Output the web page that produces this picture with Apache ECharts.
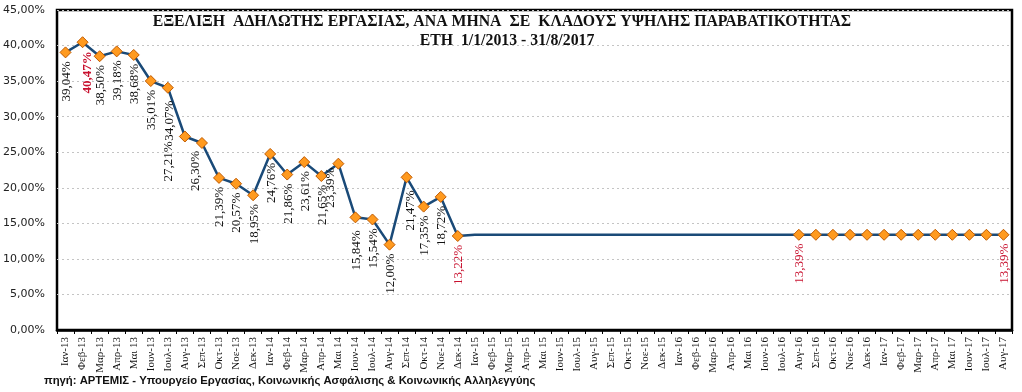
<!DOCTYPE html>
<html>
<head>
<meta charset="utf-8">
<script src="https://cdn.jsdelivr.net/npm/echarts@6/dist/echarts.min.js"></script>
<style>
html,body{margin:0;padding:0;background:#fff;}
#chart{width:1022px;height:392px;}
</style>
</head>
<body>
<div id="chart"></div>
<script>
// ---- data ----
var categories = [
  'Ιαν-13','Φεβ-13','Μαρ-13','Απρ-13','Μαι 13','Ιουν-13','Ιουλ-13','Αυγ-13','Σεπ-13','Οκτ-13','Νοε-13','Δεκ-13',
  'Ιαν-14','Φεβ-14','Μαρ-14','Απρ-14','Μαι 14','Ιουν-14','Ιουλ-14','Αυγ-14','Σεπ-14','Οκτ-14','Νοε-14','Δεκ-14',
  'Ιαν-15','Φεβ-15','Μαρ-15','Απρ-15','Μαι 15','Ιουν-15','Ιουλ-15','Αυγ-15','Σεπ-15','Οκτ-15','Νοε-15','Δεκ-15',
  'Ιαν-16','Φεβ-16','Μαρ-16','Απρ-16','Μαι 16','Ιουν-16','Ιουλ-16','Αυγ-16','Σεπ-16','Οκτ-16','Νοε-16','Δεκ-16',
  'Ιαν-17','Φεβ-17','Μαρ-17','Απρ-17','Μαι 17','Ιουν-17','Ιουλ-17','Αυγ-17'
];
var values = [
  39.04, 40.47, 38.50, 39.18, 38.68, 35.01, 34.07, 27.21, 26.30, 21.39, 20.57, 18.95,
  24.76, 21.86, 23.61, 21.65, 23.39, 15.84, 15.54, 12.00, 21.47, 17.35, 18.72, 13.22,
  13.39, 13.39, 13.39, 13.39, 13.39, 13.39, 13.39, 13.39, 13.39, 13.39, 13.39, 13.39,
  13.39, 13.39, 13.39, 13.39, 13.39, 13.39, 13.39, 13.39, 13.39, 13.39, 13.39, 13.39,
  13.39, 13.39, 13.39, 13.39, 13.39, 13.39, 13.39, 13.39
];
// months without a plotted marker (line only)
var unmarkedFrom = 'Ιαν-15', unmarkedTo = 'Ιουλ-16';
// months whose value is written on the chart
var labelledUntil = 'Δεκ-14';
var extraLabelled = ['Αυγ-16', 'Αυγ-17'];
// labels written in red
var redLabels = ['Φεβ-13', 'Δεκ-14', 'Αυγ-16', 'Αυγ-17'];
var boldLabels = ['Φεβ-13'];
var yTicks = [0, 5, 10, 15, 20, 25, 30, 35, 40, 45];
var titleLines = [
  'ΕΞΕΛΙΞΗ  ΑΔΗΛΩΤΗΣ ΕΡΓΑΣΙΑΣ, ΑΝΑ ΜΗΝΑ  ΣΕ  ΚΛΑΔΟΥΣ ΥΨΗΛΗΣ ΠΑΡΑΒΑΤΙΚΟΤΗΤΑΣ',
  'ΕΤΗ  1/1/2013 - 31/8/2017'
];
var sourceText = 'πηγή: ΑΡΤΕΜΙΣ - Υπουργείο Εργασίας, Κοινωνικής Ασφάλισης & Κοινωνικής Αλληλεγγύης';

// ---- label placement tweaks (style only), screen pixels [right, down] ----
var labelShift = {
  'Φεβ-13': [5, 0], 'Ιουλ-13': [2, 4], 'Αυγ-13': [-16, -4], 'Σεπ-13': [-6, -1],
  'Μαι 14': [-8, -5], 'Σεπ-14': [4, 4], 'Ιουν-14': [1, 4]
};

function pct(v) { return v.toFixed(2).replace('.', ',') + '%'; }

var iFrom = categories.indexOf(unmarkedFrom), iTo = categories.indexOf(unmarkedTo);
var iLab = categories.indexOf(labelledUntil);

var seriesData = values.map(function (v, i) {
  var c = categories[i];
  var marked = !(i >= iFrom && i <= iTo);
  var labelled = i <= iLab || extraLabelled.indexOf(c) >= 0;
  var red = redLabels.indexOf(c) >= 0;
  var s = labelShift[c] || [1, 0];
  return {
    value: v,
    symbol: marked ? 'diamond' : 'none',
    label: {
      show: labelled,
      color: red ? '#C8102E' : '#111',
      fontWeight: boldLabels.indexOf(c) >= 0 ? 'bold' : 'normal',
      // label is rotated 90°, so its local offset is [-down, right]
      offset: [-s[1], s[0]]
    }
  };
});

var chart = echarts.init(document.getElementById('chart'), null, { renderer: 'canvas' });
chart.setOption({
  animation: false,
  backgroundColor: '#fff',
  title: [
    { text: titleLines[0], left: 497, top: 9, textAlign: 'center',
      textStyle: { fontFamily: 'Liberation Serif', fontWeight: 'bold', fontSize: 15.8, color: '#111' } },
    { text: titleLines[1], left: 502, top: 28, textAlign: 'center',
      textStyle: { fontFamily: 'Liberation Serif', fontWeight: 'bold', fontSize: 15.8, color: '#111' } }
  ],
  graphic: [
    { type: 'text', left: 44, top: 375,
      style: { text: sourceText, fontFamily: 'Liberation Sans', fontWeight: 'bold', fontSize: 11.3, fill: '#111' } }
  ],
  grid: { left: 57, right: 10, top: 10, bottom: 62, containLabel: false, outerBoundsMode: 'none',
          show: true, borderColor: '#000', borderWidth: 2.5, backgroundColor: 'transparent' },
  xAxis: {
    type: 'category',
    data: categories,
    boundaryGap: true,
    axisLine: { show: true, lineStyle: { color: '#000', width: 2.5 } },
    axisTick: { show: true, length: 4, lineStyle: { color: '#000', width: 1 } },
    axisLabel: { interval: 0, rotate: 90, margin: 7, fontFamily: 'Liberation Serif', fontSize: 11, color: '#111' },
    splitLine: { show: false }
  },
  yAxis: {
    type: 'value',
    min: yTicks[0], max: yTicks[yTicks.length - 1], interval: yTicks[1] - yTicks[0],
    axisLine: { show: false },
    axisTick: { show: false },
    axisLabel: { margin: 12, fontFamily: 'DejaVu Sans', fontSize: 11, color: '#222', formatter: pct },
    splitLine: { show: true, lineStyle: { color: '#c4c4c4', type: [2, 3], width: 1 } }
  },
  series: [{
    type: 'line',
    data: seriesData,
    showAllSymbol: true,
    symbol: 'diamond',
    symbolSize: 11,
    lineStyle: { color: '#1A4A78', width: 2.5 },
    itemStyle: { color: '#FF9A1F', borderColor: '#C05A00', borderWidth: 1 },
    label: {
      show: true,
      position: 'bottom',
      distance: 3,
      rotate: 90,
      align: 'right',
      verticalAlign: 'middle',
      fontFamily: 'Liberation Serif',
      fontSize: 13,
      formatter: function (p) { return pct(p.value); }
    },
    emphasis: { disabled: true },
    z: 3
  }]
});
</script>
</body>
</html>
